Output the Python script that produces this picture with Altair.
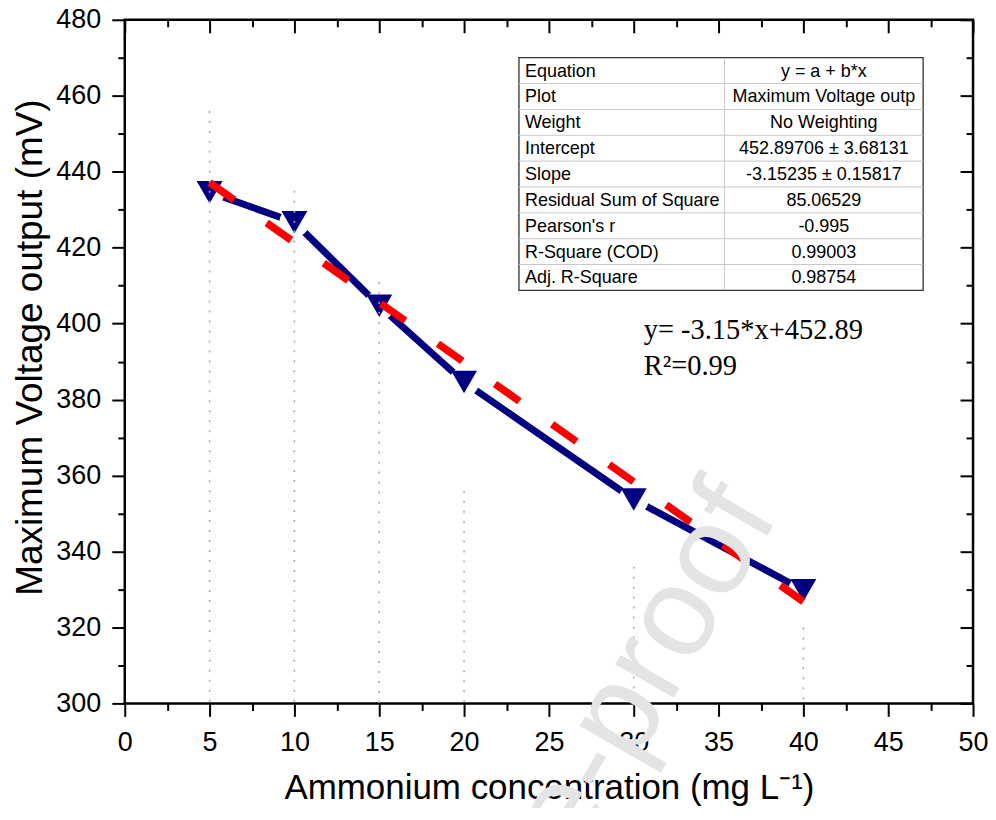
import altair as alt
import pandas as pd

# ---------------- data ----------------
conc = [5, 10, 15, 20, 30, 40]
voltage = [434.6, 426.7, 404.7, 384.6, 353.7, 329.8]
drop_top = [456, 435, 411, 356, 336, 320]

fit_x = [5, 40]
fit_y = [437.13, 326.80]

x_major = [0, 5, 10, 15, 20, 25, 30, 35, 40, 45, 50]
x_minor = [2.5, 7.5, 12.5, 17.5, 22.5, 27.5, 32.5, 37.5, 42.5, 47.5]
y_major = [300, 320, 340, 360, 380, 400, 420, 440, 460, 480]
y_minor = [310, 330, 350, 370, 390, 410, 430, 450, 470]

table_params = ["Equation", "Plot", "Weight", "Intercept", "Slope",
                "Residual Sum of Square", "Pearson's r", "R-Square (COD)",
                "Adj. R-Square"]
table_values = ["y = a + b*x", "Maximum Voltage outp", "No Weighting",
                "452.89706 \u00b1 3.68131", "-3.15235 \u00b1 0.15817",
                "85.06529", "-0.995", "0.99003", "0.98754"]
eq_lines = ["y= -3.15*x+452.89", "R\u00b2=0.99"]
watermark = "Journal Pre-proof"

x_title = "Ammonium concentration (mg L\u207b\u00b9)"
y_title = "Maximum Voltage output (mV)"

# ---------------- styling ----------------
FONT = "Liberation Sans"
NAVY = "#000080"
W, H = 850, 685

xs = alt.Scale(domain=[0, 50], nice=False, zero=False)
ys = alt.Scale(domain=[300, 480], nice=False, zero=False)


def tick_axis(orient, values, size, offset=0):
    return alt.Axis(orient=orient, values=values, tickSize=size, tickWidth=2,
                    tickColor="black", labels=False, domain=False, grid=False,
                    offset=offset, title=None)


bottom_major = alt.Axis(orient="bottom", values=x_major, tickSize=13, tickWidth=2,
                        tickColor="black", domain=False, grid=False,
                        labelFontSize=27, labelPadding=13, labelFlush=False,
                        labelOverlap=False, labelColor="black", labelFont=FONT,
                        title=x_title, titleFontSize=35, titleFont=FONT,
                        titleFontWeight="normal", titleColor="black",
                        titleX=425, titleY=95, titleBaseline="alphabetic",
                        titleAlign="center")
left_major = alt.Axis(orient="left", values=y_major, tickSize=13, tickWidth=2,
                      tickColor="black", domain=False, grid=False,
                      labelFontSize=27, labelPadding=11, labelFlush=False,
                      labelOverlap=False, labelColor="black", labelFont=FONT,
                      title=y_title, titleFontSize=37, titleFont=FONT,
                      titleFontWeight="normal", titleColor="black",
                      titleAngle=270, titleX=-83, titleY=328,
                      titleBaseline="alphabetic", titleAlign="center")

pts = pd.DataFrame({"conc": conc, "voltage": voltage, "top": drop_top})
fit = pd.DataFrame({"fx": fit_x, "fy": fit_y})

line = alt.Chart(pts).mark_line(color=NAVY, strokeWidth=7).encode(
    x=alt.X("conc:Q", scale=xs, axis=bottom_major),
    y=alt.Y("voltage:Q", scale=ys, axis=left_major),
)

gaps = alt.Chart(pts).mark_point(shape="circle", filled=True, color="white",
                                 size=900, opacity=1).encode(
    x=alt.X("conc:Q", scale=xs, axis=tick_axis("bottom", x_minor, 7)),
    y=alt.Y("voltage:Q", scale=ys, axis=tick_axis("left", y_minor, 7)),
)

tri = alt.Chart(pts).mark_point(shape="triangle-down", filled=True, color=NAVY,
                                size=676, opacity=1).encode(
    x=alt.X("conc:Q", scale=xs, axis=tick_axis("top", x_major, 13, -13)),
    y=alt.Y("voltage:Q", scale=ys, axis=tick_axis("right", y_major, 13, -13)),
)

drops = alt.Chart(pts).mark_rule(color="#aaaaaa", strokeWidth=1.6,
                                 strokeDash=[2, 8]).encode(
    x=alt.X("conc:Q", scale=xs, axis=tick_axis("top", x_minor, 7, -7)),
    y=alt.Y("top:Q", scale=ys, axis=tick_axis("right", y_minor, 7, -7)),
    y2=alt.datum(300),
)

fitline = alt.Chart(fit).mark_line(color="#ff0000", strokeWidth=7.5,
                                   strokeDash=[30, 40]).encode(
    x=alt.X("fx:Q", scale=xs, axis=None),
    y=alt.Y("fy:Q", scale=ys, axis=None),
)

# ---------------- statistics table (annotation, pixel layout) ----------------
one = pd.DataFrame({"a": [0]})
T_LEFT, T_MID, T_RIGHT, T_TOP = 395, 601, 800, 38
ROW_H = 25.9
T_BOTTOM = T_TOP + ROW_H * len(table_params)

layers = [line, gaps, tri, drops, fitline]

layers.append(alt.Chart(one).mark_rect(fill="white", stroke="#333333",
                                       strokeWidth=1.3).encode(
    x=alt.value(T_LEFT), x2=alt.value(T_RIGHT),
    y=alt.value(T_TOP), y2=alt.value(T_BOTTOM)))
layers.append(alt.Chart(one).mark_rule(color="#c8c8c8", strokeWidth=1).encode(
    x=alt.value(T_MID), y=alt.value(T_TOP), y2=alt.value(T_BOTTOM)))
for i in range(1, len(table_params)):
    yy = T_TOP + ROW_H * i
    layers.append(alt.Chart(one).mark_rule(color="#c8c8c8", strokeWidth=1).encode(
        x=alt.value(T_LEFT), x2=alt.value(T_RIGHT), y=alt.value(yy)))
for i, (p, v) in enumerate(zip(table_params, table_values)):
    yc = T_TOP + ROW_H * (i + 0.5) + 1
    layers.append(alt.Chart(one).mark_text(font=FONT, fontSize=18, align="left",
                                           baseline="middle", color="black").encode(
        x=alt.value(T_LEFT + 6), y=alt.value(yc), text=alt.value(p)))
    layers.append(alt.Chart(one).mark_text(font=FONT, fontSize=18, align="center",
                                           baseline="middle", color="black").encode(
        x=alt.value((T_MID + T_RIGHT) / 2), y=alt.value(yc), text=alt.value(v)))

# ---------------- equation text ----------------
for i, t in enumerate(eq_lines):
    layers.append(alt.Chart(one).mark_text(font="Liberation Serif", fontSize=28.5,
                                           align="left", baseline="alphabetic",
                                           color="black").encode(
        x=alt.value(520), y=alt.value(320 + 36 * i), text=alt.value(t)))

# ---------------- watermark ----------------
layers.append(alt.Chart(one).mark_text(font=FONT, fontSize=128, align="right",
                                       baseline="alphabetic", angle=300,
                                       color="#e4e4e4").encode(
    x=alt.value(656), y=alt.value(496), text=alt.value(watermark)))

chart = alt.layer(*layers).resolve_axis(
    x="independent", y="independent"
).properties(
    width=W, height=H,
    autosize=alt.AutoSizeParams(type="none"),
    padding={"left": 117, "top": 11, "right": 15, "bottom": 104},
).configure_view(stroke="black", strokeWidth=2.5)

chart.save("out.html", embed_options={"renderer": "svg", "actions": False})
